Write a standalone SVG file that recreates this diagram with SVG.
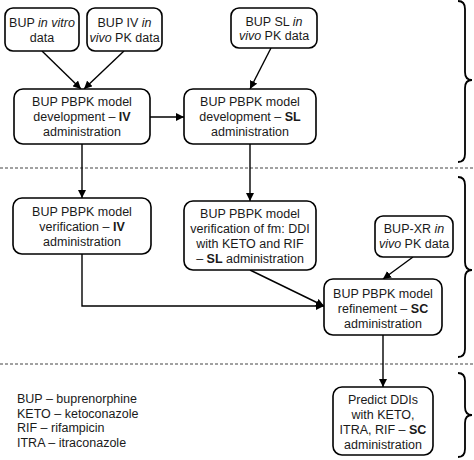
<svg xmlns="http://www.w3.org/2000/svg" width="474" height="460" viewBox="0 0 474 460">
<style>
.box{fill:#fff;stroke:#000;stroke-width:1.6}
.t{font-family:"Liberation Sans",Arial,sans-serif;font-size:12.5px;fill:#1a1a1a;text-anchor:middle}
.lg{font-family:"Liberation Sans",Arial,sans-serif;font-size:12.5px;fill:#1a1a1a}
.ln{fill:none;stroke:#000;stroke-width:1.4}
.dash{fill:none;stroke:#444;stroke-width:1;stroke-dasharray:3 2}
.brace{fill:none;stroke:#000;stroke-width:1.8}
</style>
<defs>
<marker id="ah" viewBox="0 0 10 10" refX="10" refY="5" markerWidth="8" markerHeight="8" markerUnits="userSpaceOnUse" orient="auto">
<path d="M0,0 L10,5 L0,10 z" fill="#000"/>
</marker>
</defs>
<rect width="474" height="460" fill="#fff"/>
<g id="separators">
<line class="dash" x1="0" y1="168" x2="474" y2="168"/>
<line class="dash" x1="0" y1="364" x2="474" y2="364"/>
</g>
<g id="braces">
<path class="brace" d="M458,1 Q465,1 465,9 L465,72 Q465,80 472,80 Q465,80 465,88 L465,154 Q465,162 458,162"/>
<path class="brace" d="M458,177 Q465,177 465,185 L465,262 Q465,270 472,270 Q465,270 465,278 L465,349 Q465,357 458,357"/>
<path class="brace" d="M458,373 Q465,373 465,381 L465,407 Q465,415 472,415 Q465,415 465,423 L465,449 Q465,457 458,457"/>
</g>
<g id="connectors">
<line class="ln" x1="42" y1="51" x2="81" y2="89" marker-end="url(#ah)"/>
<line class="ln" x1="124" y1="51" x2="84" y2="89" marker-end="url(#ah)"/>
<line class="ln" x1="271" y1="48" x2="250" y2="89" marker-end="url(#ah)"/>
<line class="ln" x1="150" y1="117" x2="184" y2="117" marker-end="url(#ah)"/>
<line class="ln" x1="82" y1="144" x2="82" y2="198" marker-end="url(#ah)"/>
<line class="ln" x1="250" y1="144" x2="250" y2="201" marker-end="url(#ah)"/>
<path class="ln" d="M82,254 L82,306 L324,306" marker-end="url(#ah)"/>
<line class="ln" x1="250" y1="270" x2="324" y2="306" marker-end="url(#ah)"/>
<line class="ln" x1="413" y1="257" x2="383" y2="279" marker-end="url(#ah)"/>
<line class="ln" x1="383" y1="335" x2="383" y2="387" marker-end="url(#ah)"/>
</g>
<g id="n1">
<rect class="box" x="5" y="8" width="74" height="43" rx="8"/>
<text class="t" x="42" y="27">BUP <tspan font-style="italic">in vitro</tspan></text>
<text class="t" x="42" y="41.5">data</text>
</g>
<g id="n2">
<rect class="box" x="87" y="8" width="75" height="43" rx="8"/>
<text class="t" x="124.5" y="27">BUP IV <tspan font-style="italic">in</tspan></text>
<text class="t" x="124.5" y="41.5"><tspan font-style="italic">vivo</tspan> PK data</text>
</g>
<g id="n3">
<rect class="box" x="231" y="8" width="86" height="40" rx="8"/>
<text class="t" x="274" y="25.5">BUP SL <tspan font-style="italic">in</tspan></text>
<text class="t" x="274" y="40"><tspan font-style="italic">vivo</tspan> PK data</text>
</g>
<g id="n4">
<rect class="box" x="14" y="89" width="136" height="55" rx="9"/>
<text class="t" x="82" y="106">BUP PBPK model</text>
<text class="t" x="82" y="121">development – <tspan font-weight="bold">IV</tspan></text>
<text class="t" x="82" y="136">administration</text>
</g>
<g id="n5">
<rect class="box" x="184" y="89" width="132" height="55" rx="9"/>
<text class="t" x="250" y="106">BUP PBPK model</text>
<text class="t" x="250" y="121">development – <tspan font-weight="bold">SL</tspan></text>
<text class="t" x="250" y="136">administration</text>
</g>
<g id="n6">
<rect class="box" x="13" y="198" width="138" height="56" rx="9"/>
<text class="t" x="82" y="215.5">BUP PBPK model</text>
<text class="t" x="82" y="230.5">verification – <tspan font-weight="bold">IV</tspan></text>
<text class="t" x="82" y="245.5">administration</text>
</g>
<g id="n7">
<rect class="box" x="184" y="201" width="132" height="69" rx="9"/>
<text class="t" x="250" y="217.5">BUP PBPK model</text>
<text class="t" x="250" y="232.5">verification of fm: DDI</text>
<text class="t" x="250" y="247.5">with KETO and RIF</text>
<text class="t" x="250" y="262.5">– <tspan font-weight="bold">SL</tspan> administration</text>
</g>
<g id="n8">
<rect class="box" x="375" y="216" width="78" height="41" rx="8"/>
<text class="t" x="414" y="232.5">BUP-XR <tspan font-style="italic">in</tspan></text>
<text class="t" x="414" y="247.5"><tspan font-style="italic">vivo</tspan> PK data</text>
</g>
<g id="n9">
<rect class="box" x="324" y="279" width="118" height="56" rx="9"/>
<text class="t" x="383" y="297.5">BUP PBPK model</text>
<text class="t" x="383" y="312.5">refinement – <tspan font-weight="bold">SC</tspan></text>
<text class="t" x="383" y="327.5">administration</text>
</g>
<g id="n10">
<rect class="box" x="333" y="387" width="100" height="68" rx="9"/>
<text class="t" x="383" y="403.5">Predict DDIs</text>
<text class="t" x="383" y="418.5">with KETO,</text>
<text class="t" x="383" y="433.5">ITRA, RIF – <tspan font-weight="bold">SC</tspan></text>
<text class="t" x="383" y="448.5">administration</text>
</g>
<g id="legend">
<text class="lg" x="17" y="402.5">BUP – buprenorphine</text>
<text class="lg" x="17" y="417.5">KETO – ketoconazole</text>
<text class="lg" x="17" y="432">RIF – rifampicin</text>
<text class="lg" x="17" y="447">ITRA – itraconazole</text>
</g>
</svg>
